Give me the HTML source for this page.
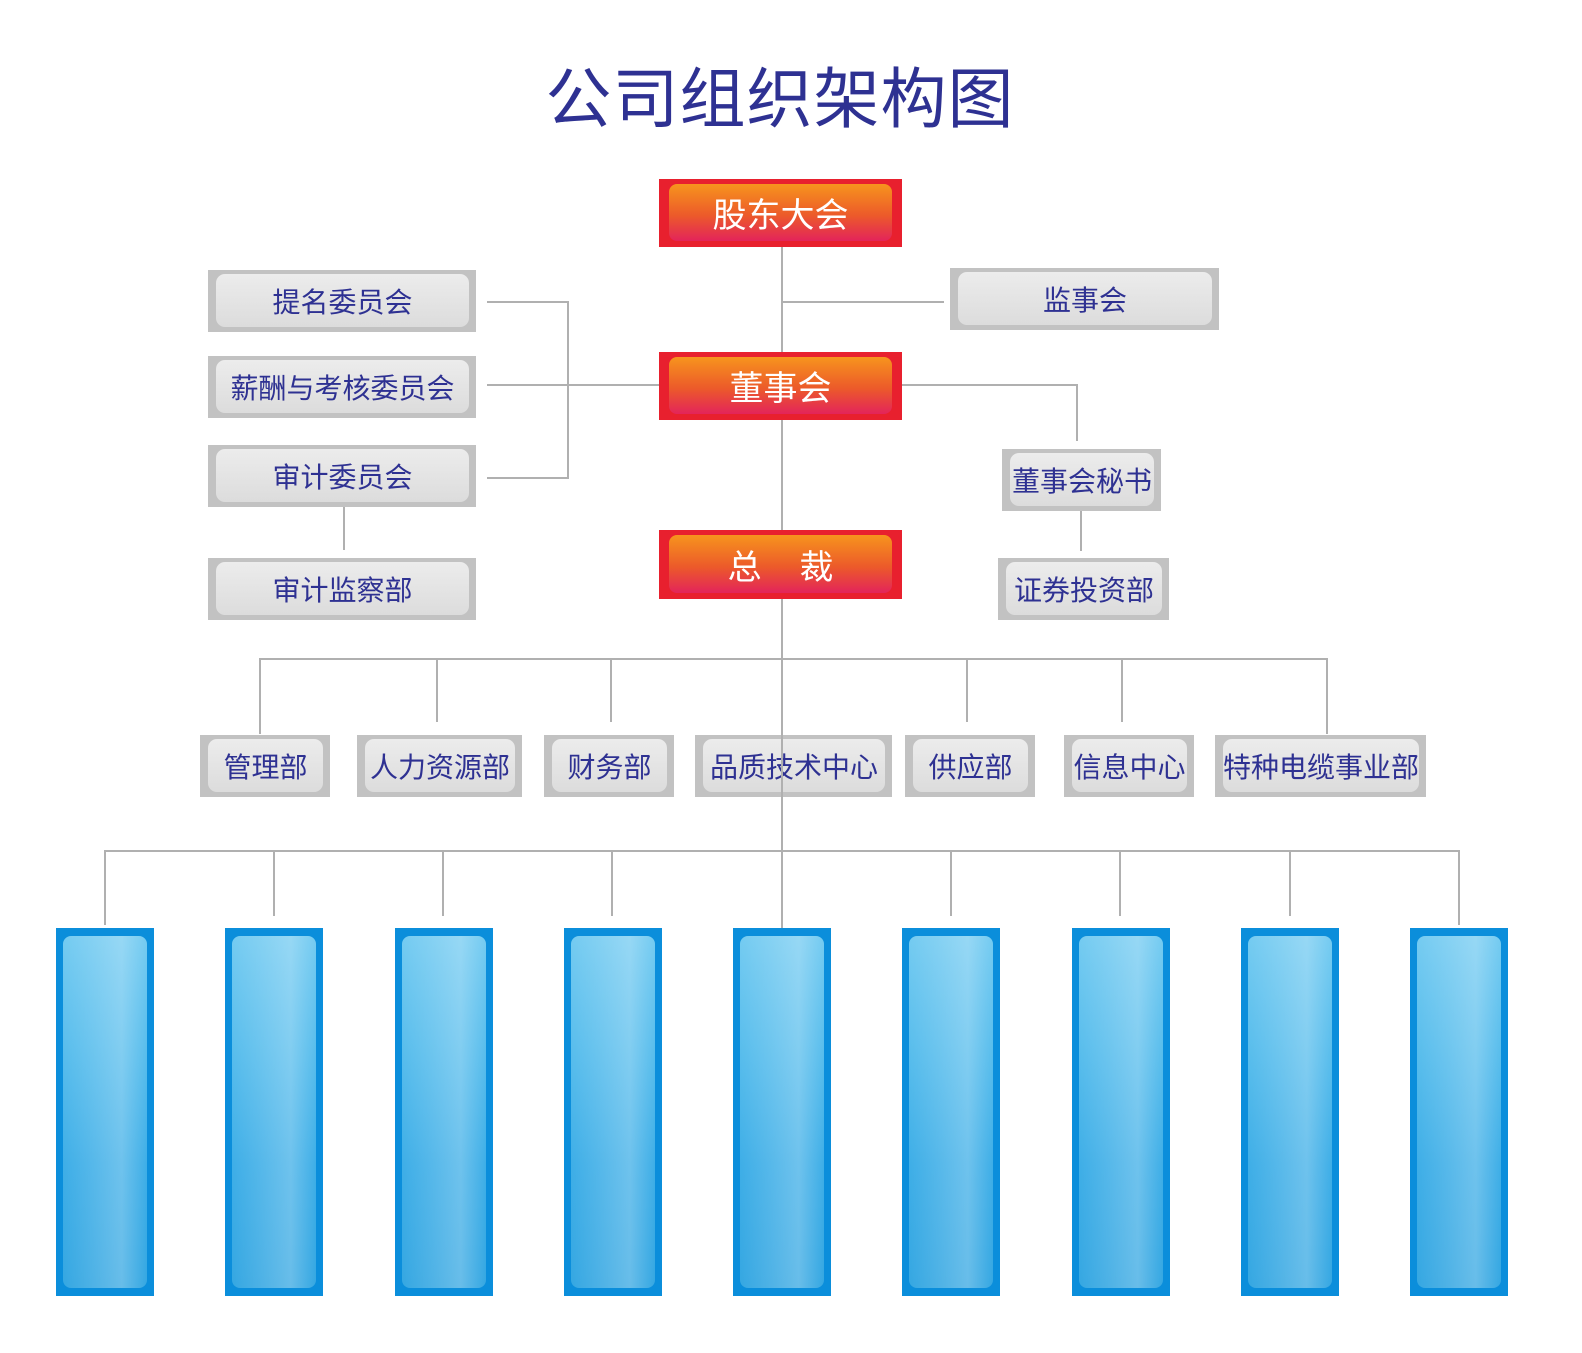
<!DOCTYPE html>
<html><head><meta charset="utf-8"><style>
body{margin:0;width:1582px;height:1353px;background:#fff;position:relative;overflow:hidden;font-family:"Liberation Sans","Noto Sans CJK SC",sans-serif}
.a{position:absolute}
.l{position:absolute;background:#b0b0b0}
.r{position:absolute;background:#e8202e;box-sizing:border-box;padding:5px 10px 6px 10px}
.r div{width:100%;height:100%;border-radius:8px;background:linear-gradient(#f7941d,#ec5a2a 55%,#e3245a);color:#fff;font-size:34px;display:flex;align-items:center;justify-content:center}
.g{position:absolute;background:#c2c2c2;box-sizing:border-box;padding:4px 7px 5px 8px}
.g div{width:100%;height:100%;border-radius:9px;background:linear-gradient(#ececec,#dcdcdc);color:#2e3192;font-size:28px;display:flex;align-items:center;justify-content:center;white-space:nowrap}
.b{position:absolute;top:928px;width:98px;height:368px;background:#0b8edb;box-sizing:border-box;padding:8px 7px 8px 7px}
.b div{width:100%;height:100%;border-radius:8px;background:linear-gradient(90deg,rgba(255,255,255,0) 0,rgba(255,255,255,.12) 35%,rgba(255,255,255,.25) 70%,rgba(255,255,255,0) 100%),linear-gradient(#74cbf1,#56bcec 35%,#3eaee7 65%,#35a7e2)}
</style></head><body>
<div class="a" style="left:0;width:1560px;top:46px;text-align:center;font-size:66px;color:#2e3192;letter-spacing:1px">公司组织架构图</div>

<div class="l" style="left:781px;top:247px;width:2px;height:681px"></div>
<div class="l" style="left:782px;top:301px;width:162px;height:2px"></div>
<div class="l" style="left:487px;top:301px;width:82px;height:2px"></div>
<div class="l" style="left:487px;top:384px;width:172px;height:2px"></div>
<div class="l" style="left:487px;top:477px;width:82px;height:2px"></div>
<div class="l" style="left:567px;top:301px;width:2px;height:178px"></div>
<div class="l" style="left:902px;top:384px;width:176px;height:2px"></div>
<div class="l" style="left:1076px;top:384px;width:2px;height:57px"></div>
<div class="l" style="left:1080px;top:511px;width:2px;height:40px"></div>
<div class="l" style="left:343px;top:507px;width:2px;height:43px"></div>
<div class="l" style="left:259px;top:658px;width:1069px;height:2px"></div>
<div class="l" style="left:259px;top:658px;width:2px;height:76px"></div>
<div class="l" style="left:436px;top:658px;width:2px;height:64px"></div>
<div class="l" style="left:610px;top:658px;width:2px;height:64px"></div>
<div class="l" style="left:966px;top:658px;width:2px;height:64px"></div>
<div class="l" style="left:1121px;top:658px;width:2px;height:64px"></div>
<div class="l" style="left:1326px;top:658px;width:2px;height:76px"></div>
<div class="l" style="left:104px;top:850px;width:1356px;height:2px"></div>
<div class="l" style="left:104px;top:850px;width:2px;height:75px"></div>
<div class="l" style="left:273px;top:850px;width:2px;height:66px"></div>
<div class="l" style="left:442px;top:850px;width:2px;height:66px"></div>
<div class="l" style="left:611px;top:850px;width:2px;height:66px"></div>
<div class="l" style="left:950px;top:850px;width:2px;height:66px"></div>
<div class="l" style="left:1119px;top:850px;width:2px;height:66px"></div>
<div class="l" style="left:1289px;top:850px;width:2px;height:66px"></div>
<div class="l" style="left:1458px;top:850px;width:2px;height:75px"></div>

<div class="r" style="left:659px;top:179px;width:243px;height:68px"><div>股东大会</div></div>
<div class="r" style="left:659px;top:352px;width:243px;height:68px"><div>董事会</div></div>
<div class="r" style="left:659px;top:530px;width:243px;height:69px"><div>总&nbsp;&nbsp;&nbsp;&nbsp;裁</div></div>

<div class="g" style="left:208px;top:270px;width:268px;height:62px"><div>提名委员会</div></div>
<div class="g" style="left:208px;top:356px;width:268px;height:62px"><div>薪酬与考核委员会</div></div>
<div class="g" style="left:208px;top:445px;width:268px;height:62px"><div>审计委员会</div></div>
<div class="g" style="left:208px;top:558px;width:268px;height:62px"><div>审计监察部</div></div>
<div class="g" style="left:950px;top:268px;width:269px;height:62px"><div>监事会</div></div>
<div class="g" style="left:1002px;top:449px;width:159px;height:62px"><div>董事会秘书</div></div>
<div class="g" style="left:998px;top:558px;width:171px;height:62px"><div>证券投资部</div></div>

<div class="g" style="left:200px;top:735px;width:130px;height:62px"><div>管理部</div></div>
<div class="g" style="left:357px;top:735px;width:165px;height:62px"><div>人力资源部</div></div>
<div class="g" style="left:544px;top:735px;width:130px;height:62px"><div>财务部</div></div>
<div class="g" style="left:695px;top:735px;width:197px;height:62px"><div>品质技术中心</div></div>
<div class="g" style="left:905px;top:735px;width:130px;height:62px"><div>供应部</div></div>
<div class="g" style="left:1064px;top:735px;width:130px;height:62px"><div>信息中心</div></div>
<div class="g" style="left:1215px;top:735px;width:211px;height:62px"><div>特种电缆事业部</div></div>
<div class="l" style="left:781px;top:735px;width:2px;height:62px"></div>

<div class="b" style="left:56px"><div></div></div>
<div class="b" style="left:225px"><div></div></div>
<div class="b" style="left:395px"><div></div></div>
<div class="b" style="left:564px"><div></div></div>
<div class="b" style="left:733px"><div></div></div>
<div class="b" style="left:902px"><div></div></div>
<div class="b" style="left:1072px"><div></div></div>
<div class="b" style="left:1241px"><div></div></div>
<div class="b" style="left:1410px"><div></div></div>
</body></html>
